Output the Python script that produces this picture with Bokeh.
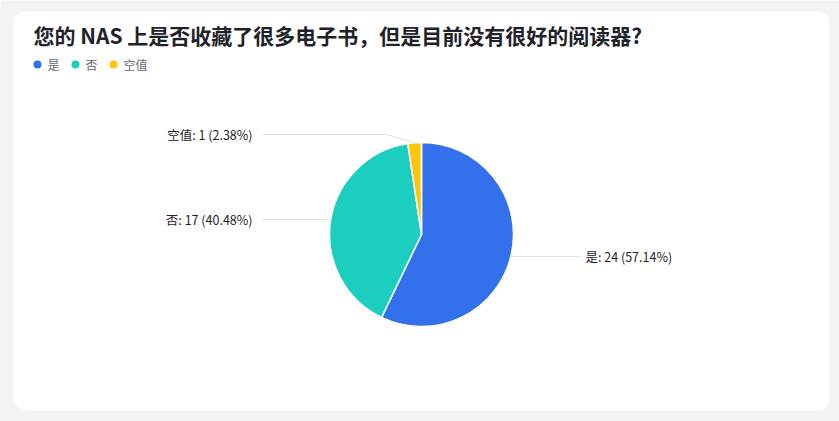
import numpy as np
from bokeh.plotting import figure
from bokeh.models import Range1d, BoxAnnotation
from bokeh.core.properties import value
from bokeh.embed import file_html
from bokeh.resources import INLINE

# ---- data ----
title_text = "您的 NAS 上是否收藏了很多电子书，但是目前没有很好的阅读器?"
categories = ["是", "否", "空值"]
counts = [24, 17, 1]
colors = ["#3370eb", "#1bcebf", "#ffc60a"]

W, H = 839, 421
FONT = value("Noto Sans CJK SC")

p = figure(width=W, height=H, output_backend="svg", toolbar_location=None,
           x_range=Range1d(0, W), y_range=Range1d(0, H),
           x_axis_type=None, y_axis_type=None, min_border=0,
           background_fill_color="#f2f3f5", border_fill_color="#f2f3f5",
           outline_line_color=None)
p.grid.visible = False

# card
p.add_layout(BoxAnnotation(left=13, right=829, bottom=11, top=410,
                           fill_color="white", fill_alpha=1.0,
                           line_color=None, border_radius=12, level="underlay"))

# title
p.text(x=[33], y=[387], text=[title_text], text_font=FONT, text_font_size="21px",
       text_font_style="bold", text_color="#1f2329", text_baseline="middle",
       text_align="left")

# legend
leg_x = [37, 75, 113]
p.scatter(x=leg_x, y=[357] * 3, size=8, marker="circle", fill_color=colors, line_color=None)
p.text(x=[x + 10 for x in leg_x], y=[357] * 3, text=categories, text_font=FONT,
       text_font_size="12px", text_color="#646a73", text_baseline="middle",
       text_align="left")

# pie
cx, cy, r = 421, 187, 92
total = sum(counts)
frac = np.array(counts) / total
cum = np.concatenate([[0], np.cumsum(frac)])
start = 90 - cum[:-1] * 360
end = 90 - cum[1:] * 360
p.wedge(x=[cx] * 3, y=[cy] * 3, radius=r, start_angle=list(start), end_angle=list(end),
        start_angle_units="deg", end_angle_units="deg", direction="clock",
        fill_color=colors, line_color="white", line_width=1.5)

# labels with leader lines
mid = np.deg2rad((start + end) / 2)
ex = cx + r * np.cos(mid)
ey = cy + r * np.sin(mid)
label_y = [165, 202, 287]
xs, ys, tx, align = [], [], [], []
for i in range(3):
    side = 1 if np.cos(mid[i]) > 0 else -1
    elbow_x = ex[i] + side * 28 if abs(label_y[i] - ey[i]) > 4 else ex[i]
    end_x = cx + side * 159
    xs.append([ex[i], elbow_x, end_x])
    ys.append([ey[i], label_y[i], label_y[i]])
    tx.append(end_x + side * 5 if side > 0 else end_x - 10)
    align.append("left" if side > 0 else "right")
p.multi_line(xs=xs, ys=ys, line_color="#dee0e3", line_width=1)
labels = [f"{c}: {n} ({n / total * 100:.2f}%)" for c, n in zip(categories, counts)]
p.text(x=tx, y=label_y, text=labels, text_align=align, text_font=FONT,
       text_font_size="12.5px", text_color="#1f2329", text_baseline="middle")

open("out.html", "w").write(file_html(p, INLINE))
